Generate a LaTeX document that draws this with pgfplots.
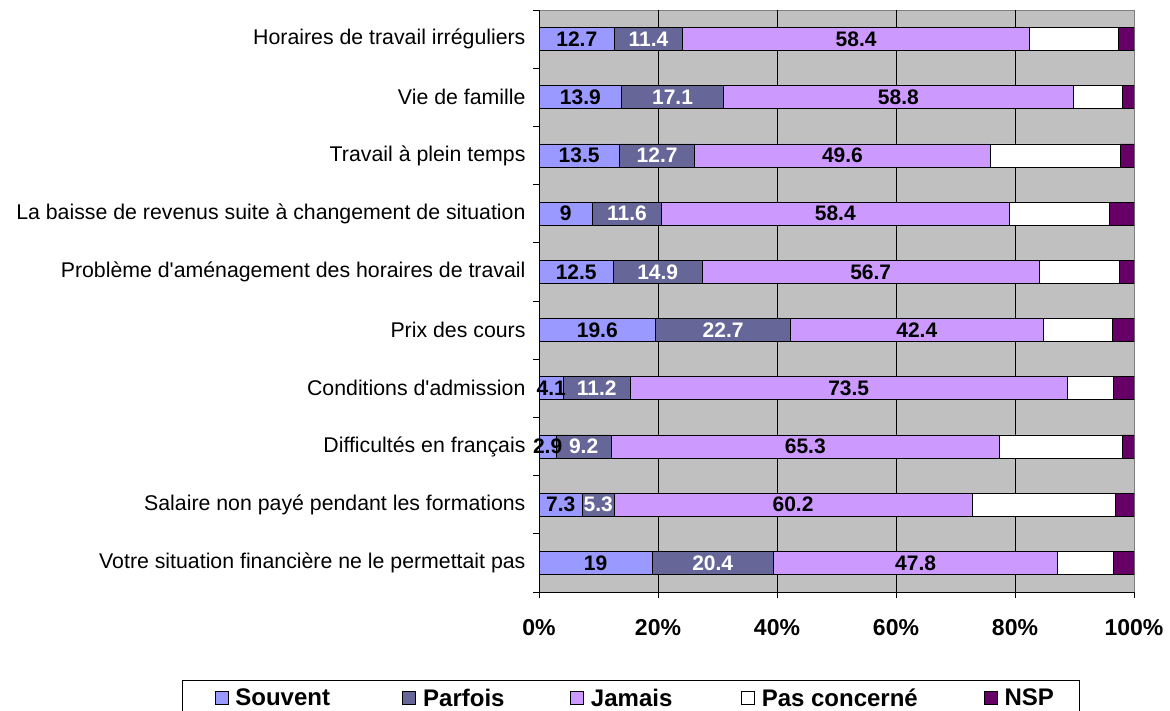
\documentclass[border=0pt]{standalone}
\usepackage{pgfplots}
\usepackage{pgfplotstable}
\pgfplotsset{compat=1.18}
\usepackage{fontspec}
\setmainfont{Liberation Sans}

\definecolor{souvent}{HTML}{9999FF}
\definecolor{parfois}{HTML}{666699}
\definecolor{jamais}{HTML}{CC99FF}
\definecolor{nsp}{HTML}{660066}
\definecolor{fond}{HTML}{C0C0C0}

% une ligne par raison, du bas (0) vers le haut (9), en %
\pgfplotstableread{
y souvent parfois jamais pasconcerne nsp
0 19.0 20.4 47.8  9.4 3.4
1  7.3  5.3 60.2 24.1 3.1
2  2.9  9.2 65.3 20.6 2.0
3  4.1 11.2 73.5  7.8 3.4
4 19.6 22.7 42.4 11.7 3.6
5 12.5 14.9 56.7 13.5 2.4
6  9.0 11.6 58.4 16.9 4.1
7 13.5 12.7 49.6 21.9 2.3
8 13.9 17.1 58.8  8.2 2.0
9 12.7 11.4 58.4 14.8 2.7
}\reponses

% etiquette de valeur (pgfplots la met deja au milieu du segment empile)
\pgfplotsset{
  etiquette/.style 2 args={
    visualization depends on={\thisrow{#1} \as \brut},
    nodes near coords={\pgfmathprintnumber[assume math mode=true]{\brut}},
    every node near coord/.style={anchor=center, text=#2, inner sep=0pt,
      font=\bfseries\fontsize{21}{25}\selectfont},
  },
}

\begin{document}
\begin{tikzpicture}[x=1pt,y=1pt]
\path[use as bounding box] (0,0) rectangle (1170,711);
\begin{axis}[
  at={(539pt,119pt)}, anchor=south west,
  scale only axis, width=595pt, height=582pt,
  xbar stacked, bar width=23pt,
  xmin=0, xmax=100, ymin=-0.5, ymax=9.5,
  axis lines*=left,
  axis line style={black, line width=0.8pt},
  axis background/.style={fill=fond, draw=gray, line width=0.8pt},
  tick align=outside,
  major tick length=6pt,
  tick style={black, line width=0.8pt},
  xtick={20,40,60,80},
  xticklabel={\pgfmathprintnumber[assume math mode=true]{\tick}\%},
  extra x ticks={0,100},
  extra x tick labels={0\%,100\%},
  extra x tick style={grid=none},
  xmajorgrids,
  major grid style={black, line width=0.8pt},
  xticklabel style={font=\bfseries\fontsize{23}{27}\selectfont, yshift=-18pt},
  ytick={-0.5,0.5,...,9.5},
  yticklabels={},
  extra y ticks={0,...,9},
  extra y tick labels={
    Votre situation financière ne le permettait pas,
    Salaire non payé pendant les formations,
    Difficultés en français,
    Conditions d\textquotesingle admission,
    Prix des cours,
    Problème d\textquotesingle aménagement des horaires de travail,
    La baisse de revenus suite à changement de situation,
    Travail à plein temps,
    Vie de famille,
    Horaires de travail irréguliers},
  extra y tick style={major tick length=0pt, tick style={draw=none},
    yticklabel style={font=\fontsize{21.3}{25}\selectfont, xshift=-10pt}},
  legend columns=5,
  legend style={
    at={(axis description cs:-0.6,-0.1512)}, anchor=north west,
    draw=black, line width=1.2pt,
    font=\bfseries\fontsize{24}{28}\selectfont,
    inner xsep=32pt, inner ysep=8pt,
    /tikz/every odd column/.append style={column sep=7pt},
    nodes={inner sep=0pt},
  },
  legend image code/.code={\draw[#1, line width=0.8pt] (0pt,-6.5pt) rectangle (13pt,6.5pt);},
]
\addplot[fill=souvent, draw=black, line width=0.8pt, etiquette={souvent}{black}]
  table[x=souvent, y=y] {\reponses};
\addplot[fill=parfois, draw=black, line width=0.8pt, etiquette={parfois}{white}]
  table[x=parfois, y=y] {\reponses};
\addplot[fill=jamais, draw=black, line width=0.8pt, etiquette={jamais}{black}]
  table[x=jamais, y=y] {\reponses};
\addplot[fill=white, draw=black, line width=0.8pt]
  table[x=pasconcerne, y=y] {\reponses};
\addplot[fill=nsp, draw=black, line width=0.8pt]
  table[x=nsp, y=y] {\reponses};
\legend{\makebox[167pt][l]{Souvent}, \makebox[147pt][l]{Parfois},
  \makebox[150pt][l]{Jamais}, \makebox[222pt][l]{Pas concerné},
  \makebox[43pt][l]{NSP}}
\end{axis}
\end{tikzpicture}
\end{document}
